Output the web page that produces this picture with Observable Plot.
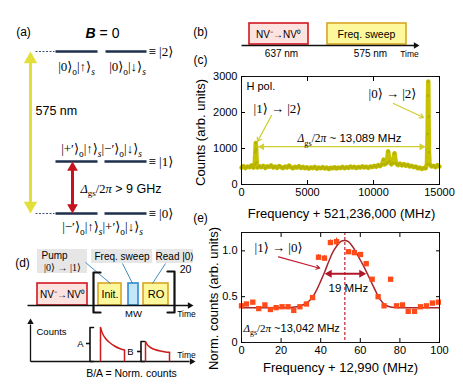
<!DOCTYPE html>
<html><head><meta charset="utf-8">
<script src="https://cdn.jsdelivr.net/npm/d3@7"></script>
<script src="https://cdn.jsdelivr.net/npm/@observablehq/plot@0.6"></script>
<style>
body{margin:0;background:#fff}
#fig{position:relative;width:463px;height:386px;overflow:hidden;background:#fff}
#fig svg{position:absolute;left:0;top:0}
</style></head><body><div id="fig"></div>
<script>
const SANS = "Liberation Sans, Arial, Helvetica, sans-serif";
const SERIF = "Liberation Serif, Times New Roman, DejaVu Serif, serif";

// ---------- (c) spectrum data ----------
const freqC = [0,150,300,450,600,750,900,1000,1050,1080,1110,1150,1200,1350,1500,1650,1800,1950,2100,2250,2400,2550,2700,2850,3000,3150,3300,3450,3600,3750,3900,4050,4200,4350,4500,4650,4800,4950,5100,5250,5400,5550,5700,5850,6000,6150,6300,6450,6600,6750,6900,7050,7200,7350,7500,7650,7800,7950,8100,8250,8400,8550,8700,8850,9000,9150,9300,9450,9600,9750,9900,10050,10200,10350,10500,10650,10760,10850,11000,11110,11200,11350,11450,11590,11700,11850,12000,12150,12300,12450,12600,12750,12900,13050,13200,13350,13500,13650,13800,13950,14050,14100,14130,14150,14170,14200,14250,14400,14550,14700,14850,15000];
const countsC = [470,510,455,500,480,530,470,560,900,1150,980,620,470,510,480,520,460,505,490,530,470,500,460,515,480,455,500,470,525,480,450,495,470,510,460,490,450,480,440,475,455,490,440,470,450,485,445,470,430,465,450,480,445,470,455,490,450,480,460,500,470,490,455,485,470,505,475,495,460,500,485,520,490,540,510,560,690,560,600,920,640,560,600,870,590,540,580,530,570,520,550,500,520,480,500,450,470,430,460,450,560,1400,2470,2860,1890,900,560,500,520,480,540,500];
const xTicksC = [0,5000,10000,15000];
const yTicksC = [0,1000,2000,3000];

// ---------- (e) resonance data ----------
const freqE = [0,2.5,5.7,8.7,11.8,14.6,17.5,20.5,23.5,26.4,29.5,32.8,35.9,38.9,41.9,44.9,48.0,54.0,57.0,60.1,63.0,66.0,69.0,72.0,75.3,78.3,81.3,84.2,87.4,90.4,93.4,96.4,99.4];
const normE = [0.40,0.42,0.44,0.37,0.41,0.36,0.38,0.39,0.39,0.35,0.39,0.42,0.49,0.93,0.92,1.09,1.10,0.99,0.98,0.96,0.86,0.69,0.50,0.40,0.69,0.40,0.41,0.34,0.34,0.39,0.40,0.43,0.44];
const errE  = [0.01,0.01,0.01,0.01,0.01,0.01,0.01,0.01,0.01,0.01,0.01,0.01,0.02,0.03,0.03,0.03,0.04,0.02,0.02,0.02,0.02,0.02,0.02,0.01,0.02,0.01,0.01,0.01,0.01,0.01,0.01,0.01,0.01];
const fitFreq = [0,10,20,25,28,30,32,34,36,38,40,42,44,46,48,50,52,54,56,58,60,62,64,66,68,70,72,74,76,80,90,100];
const fitNorm = [0.38,0.38,0.38,0.383,0.39,0.40,0.42,0.45,0.50,0.575,0.67,0.77,0.88,0.98,1.05,1.10,1.113,1.10,1.05,0.98,0.90,0.82,0.73,0.64,0.55,0.47,0.42,0.395,0.385,0.38,0.38,0.38];
const xTicksE = [0,20,40,60,80,100];
const yTicksE = [0,0.5,1.0];

// ---------- helpers ----------
function heads(tips, dir, r, fill) {
  const d = 2 * Math.sqrt(Math.PI * r * r / (3 * Math.sqrt(3)));
  const o = {up:[0,d,0], down:[0,-d,180], right:[-d,0,90], left:[d,0,270]}[dir];
  return Plot.dot(tips, {x: "x", y: "y", symbol: "triangle", r, fill, strokeWidth: 0, rotate: o[2], dx: o[0], dy: o[1]});
}
function T(d) {
  return Plot.text([d], {x: "x", y: "y", text: "t", fontSize: d.size || 10,
    textAnchor: d.anchor || "middle", fontFamily: d.serif ? SERIF : SANS,
    rotate: d.rot || 0, fill: d.fill || "black"});
}
const NS = "http://www.w3.org/2000/svg";
function richify(svg) {
  svg.querySelectorAll("text").forEach(t => {
    const s = t.textContent;
    if (!/\{(i|s|sub|subi|bi):/.test(s)) return;
    const fs = parseFloat(getComputedStyle(t).fontSize) || 10;
    while (t.firstChild) t.removeChild(t.firstChild);
    const re = /\{(subi|sub|bi|i|s):([^}]*)\}/g;
    let last = 0, shift = 0, m;
    const add = (txt, type) => {
      if (!txt) return;
      const ts = document.createElementNS(NS, "tspan");
      ts.textContent = txt;
      let target = 0;
      if (type === "sub" || type === "subi") {
        target = Math.round(fs * 0.3 * 10) / 10;
        ts.style.fontSize = (fs * 0.72) + "px";
        ts.style.fontFamily = SERIF;
        if (type === "subi") ts.style.fontStyle = "italic";
      }
      if (type === "i") { ts.style.fontStyle = "italic"; ts.style.fontFamily = SERIF; }
      if (type === "s") ts.style.fontFamily = SERIF;
      if (type === "bi") { ts.style.fontStyle = "italic"; ts.style.fontWeight = "bold"; }
      if (target !== shift) { ts.setAttribute("dy", target - shift); shift = target; }
      t.appendChild(ts);
    };
    while ((m = re.exec(s))) { add(s.slice(last, m.index), null); add(m[2], m[1]); last = re.lastIndex; }
    add(s.slice(last), null);
  });
}
const fig = document.getElementById("fig");
function mount(svg) { svg.style.position = "absolute"; svg.style.left = "0"; svg.style.top = "0"; fig.appendChild(svg); richify(svg); }

// ---------- diagram layer (panels a, b, d and shared labels) ----------
const NAVY = "#1d2f4d", YEL = "#e2df3a", RED = "#c4121f";
const segSolid = [
  {x1:55,y1:51,x2:97,y2:51,c:NAVY,w:2.6},{x1:105,y1:51,x2:146,y2:51,c:NAVY,w:2.6},
  {x1:55,y1:161,x2:97,y2:161,c:NAVY,w:2.6},{x1:104,y1:161,x2:146,y2:161,c:NAVY,w:2.6},
  {x1:55,y1:213,x2:97,y2:213,c:NAVY,w:2.6},{x1:104,y1:213,x2:146,y2:213,c:NAVY,w:2.6},
  {x1:30,y1:60,x2:30,y2:204,c:YEL,w:3},
  {x1:72,y1:168,x2:72,y2:206,c:RED,w:3},
  {x1:241,y1:45,x2:414,y2:45,c:"#111",w:1.3},
  {x1:27,y1:305,x2:188,y2:305,c:"#111",w:1.3},
  {x1:85,y1:262,x2:110,y2:283,c:"#2f80b8",w:0.9},
  {x1:122,y1:263,x2:132,y2:283,c:"#2f80b8",w:0.9},
  {x1:165,y1:263,x2:152,y2:283,c:"#2f80b8",w:0.9},
  {x1:30,y1:361,x2:30,y2:324,c:"#111",w:1.3},
  {x1:30,y1:361,x2:189,y2:361,c:"#111",w:1.3},
  {x1:89.5,y1:343,x2:85.5,y2:343,c:"#111",w:1.6},
  {x1:140.5,y1:351,x2:136.5,y2:351,c:"#111",w:1.6},
  {x1:100,y1:361,x2:100,y2:327,c:"#cc1b1b",w:1.5},
  {x1:124,y1:349.5,x2:124,y2:361,c:"#cc1b1b",w:1.5},
  {x1:145,y1:361,x2:145,y2:341,c:"#cc1b1b",w:1.5},
  {x1:169,y1:351.8,x2:169,y2:361,c:"#cc1b1b",w:1.5}
];
const segDashed = [{x1:35,y1:51,x2:54,y2:51},{x1:35,y1:213,x2:54,y2:213}];
const boxes = [
  {x1:249,x2:308,y1:23,y2:44,f:"#fde3df",s:"#d2161e"},
  {x1:327,x2:406,y1:23,y2:44,f:"#fdf89c",s:"#d8a624"},
  {x1:37,x2:87,y1:283,y2:305,f:"#fde3df",s:"#d2161e"},
  {x1:98,x2:121,y1:283,y2:305,f:"#fdf89c",s:"#d8a624"},
  {x1:128,x2:138,y1:283,y2:305,f:"#c4e6f8",s:"#2b8ccc"},
  {x1:143,x2:168,y1:283,y2:305,f:"#fdf89c",s:"#d8a624"}
];
const grayBoxes = [
  {x1:37,x2:87,y1:249,y2:273},{x1:91,x2:152,y1:249,y2:263},{x1:156,x2:193,y1:249,y2:263}
];
const brackets = [
  {id:"L",x:100,y:272},{id:"L",x:93,y:272},{id:"L",x:93,y:312},{id:"L",x:100,y:312},
  {id:"R",x:167,y:271},{id:"R",x:174,y:271},{id:"R",x:174,y:312},{id:"R",x:167,y:312}
];
const braces = [
  {id:"A",x:93,y:327},{id:"A",x:89.5,y:327},{id:"A",x:89.5,y:361},{id:"A",x:93,y:361},
  {id:"B",x:144,y:341},{id:"B",x:140.5,y:341},{id:"B",x:140.5,y:361},{id:"B",x:144,y:361}
];
const decay = [
  {id:"A",x:100,y:327},{id:"A",x:102,y:333},{id:"A",x:105,y:338},{id:"A",x:109,y:342},{id:"A",x:114,y:345.5},{id:"A",x:119,y:348},{id:"A",x:124,y:349.5},
  {id:"B",x:145,y:341},{id:"B",x:147,y:344.5},{id:"B",x:150,y:347},{id:"B",x:155,y:349.3},{id:"B",x:160,y:350.6},{id:"B",x:165,y:351.4},{id:"B",x:169,y:351.8}
];
const labels = [
  {x:23,y:32,t:"(a)",size:12},
  {x:102,y:33,t:"{bi:B} = 0",size:14},
  {x:76,y:66,t:"|0⟩{sub:o}|↑⟩{subi:s}",size:13,serif:1},
  {x:127,y:66,t:"|0⟩{sub:o}|↓⟩{subi:s}",size:13,serif:1},
  {x:101,y:148,t:"|+′⟩{sub:o}|↑⟩{subi:s}|−′⟩{sub:o}|↓⟩{subi:s}",size:13,serif:1},
  {x:102,y:226,t:"|−′⟩{sub:o}|↑⟩{subi:s}|+′⟩{sub:o}|↓⟩{subi:s}",size:13,serif:1},
  {x:148,y:51,t:"≡ |2⟩",size:13,serif:1,anchor:"start"},
  {x:148,y:161,t:"≡ |1⟩",size:13,serif:1,anchor:"start"},
  {x:148,y:213,t:"≡ |0⟩",size:13,serif:1,anchor:"start"},
  {x:35,y:110,t:"575 nm",size:12.5,anchor:"start"},
  {x:80,y:188,t:"{i:Δ}{sub:gs}{s:/2}{i:π} > 9 GHz",size:12.5,anchor:"start"},
  {x:200,y:32,t:"(b)",size:12},
  {x:278,y:34,t:"NV⁻→NV⁰",size:10},
  {x:366,y:34,t:"Freq. sweep",size:10.5},
  {x:281,y:53,t:"637 nm",size:10},
  {x:370,y:53,t:"575 nm",size:10},
  {x:409,y:54,t:"Time",size:8.5},
  {x:200,y:60,t:"(c)",size:12},
  {x:200,y:132,t:"Counts (arb. units)",size:13,rot:-90},
  {x:341,y:213,t:"Frequency + 521,236,000 (MHz)",size:13},
  {x:200,y:218,t:"(e)",size:12},
  {x:213,y:298,t:"Norm. counts (arb. units)",size:13,rot:-90},
  {x:340,y:367,t:"Frequency + 12,990 (MHz)",size:13},
  {x:22,y:263,t:"(d)",size:12},
  {x:41,y:255,t:"Pump",size:10,anchor:"start"},
  {x:62,y:267,t:"|0⟩ → |1⟩",size:10,serif:1},
  {x:121.5,y:256,t:"Freq. sweep",size:10},
  {x:174.5,y:256,t:"Read |0⟩",size:10},
  {x:62,y:294,t:"NV⁻→NV⁰",size:10},
  {x:109.5,y:294,t:"Init.",size:10.5},
  {x:155.5,y:294,t:"RO",size:11},
  {x:133,y:313,t:"MW",size:9.5},
  {x:186,y:314,t:"Time",size:8.5},
  {x:185,y:269,t:"20",size:10.5},
  {x:36,y:331,t:"Counts",size:9.5,anchor:"start"},
  {x:186,y:355,t:"Time",size:8.5},
  {x:80,y:343,t:"A",size:9.5},
  {x:130,y:351,t:"B",size:9.5},
  {x:131,y:373,t:"B/A = Norm. counts",size:10.5}
];

const base = Plot.plot({
  width: 463, height: 386, margin: 0,
  x: {domain: [0, 463], range: [0, 463], axis: null},
  y: {domain: [0, 386], range: [0, 386], axis: null},
  style: {background: "transparent", fontFamily: SANS, overflow: "visible"},
  marks: [
    Plot.rect(grayBoxes, {x1: "x1", x2: "x2", y1: "y1", y2: "y2", fill: "#e6e6e6"}),
    Plot.rect(boxes, {x1: "x1", x2: "x2", y1: "y1", y2: "y2", fill: "f", stroke: "s", strokeWidth: 1.6}),
    Plot.link(segDashed, {x1: "x1", y1: "y1", x2: "x2", y2: "y2", stroke: "#3b5275", strokeWidth: 1, strokeDasharray: "2,1.5"}),
    Plot.link(segSolid, {x1: "x1", y1: "y1", x2: "x2", y2: "y2", stroke: "c", strokeWidth: "w"}),
    Plot.line(brackets, {x: "x", y: "y", z: "id", stroke: "#111", strokeWidth: 2.2}),
    Plot.line(braces, {x: "x", y: "y", z: "id", stroke: "#111", strokeWidth: 1.6}),
    Plot.line(decay, {x: "x", y: "y", z: "id", stroke: "#cc1b1b", strokeWidth: 1.5, curve: "catmull-rom"}),
    heads([{x:30,y:51}], "up", 5, YEL),
    heads([{x:30,y:213}], "down", 5, YEL),
    heads([{x:72,y:161}], "up", 4, RED),
    heads([{x:72,y:213}], "down", 4, RED),
    heads([{x:419,y:45},{x:193,y:305},{x:195,y:361}], "right", 2.4, "#111"),
    heads([{x:30,y:318}], "up", 2.4, "#111"),
    ...labels.map(T)
  ]
});
mount(base);

// ---------- (c) spectrum ----------
const OLIVE = "#c6c200", ARROWY = "#d0cf2e";
const specC = freqC.map((f, i) => ({f, c: countsC[i]}));
const plotC = Plot.plot({
  width: 463, height: 386,
  marginLeft: 241, marginRight: 24, marginTop: 76, marginBottom: 202,
  x: {domain: [0, 15000]}, y: {domain: [0, 3000]},
  style: {background: "transparent", fontFamily: SANS, overflow: "visible"},
  marks: [
    Plot.line(specC, {x: "f", y: "c", stroke: OLIVE, strokeWidth: 4.5, strokeLinejoin: "round"}),
    Plot.dot(specC, {x: "f", y: "c", r: 1.5, fill: "#b5b100", strokeWidth: 0}),
    Plot.link([{x1: 1250, x2: 13950, y: 1050}], {x1: "x1", x2: "x2", y1: "y", y2: "y", stroke: ARROWY, strokeWidth: 1.3}),
    heads([{x: 1250, y: 1050}], "left", 2.6, ARROWY),
    heads([{x: 13950, y: 1050}], "right", 2.6, ARROWY),
    Plot.arrow([{x1: 2273, y1: 1917, x2: 1212, y2: 1194}, {x1: 11515, y1: 2250, x2: 13788, y2: 1861}],
      {x1: "x1", y1: "y1", x2: "x2", y2: "y2", stroke: ARROWY, strokeWidth: 1.3, headLength: 5}),
    T({x: 379, y: 2722, t: "H pol.", size: 11, anchor: "start"}),
    T({x: 2727, y: 2111, t: "|1⟩ → |2⟩", size: 13, serif: 1}),
    T({x: 11439, y: 2528, t: "|0⟩ → |2⟩", size: 13, serif: 1}),
    T({x: 8182, y: 1278, t: "{i:Δ}{sub:gs}{s:/2}{i:π} ~ 13,089 MHz", size: 11.5}),
    Plot.frame({stroke: "#111"}),
    Plot.axisX({anchor: "bottom", ticks: xTicksC, tickFormat: "d", tickSize: -4, tickPadding: 8, label: null, fontSize: 11}),
    Plot.axisX({anchor: "top", ticks: xTicksC, tickFormat: () => "", tickSize: -4, label: null}),
    Plot.axisY({anchor: "left", ticks: yTicksC, tickFormat: "d", tickSize: -4, tickPadding: 8, label: null, fontSize: 11}),
    Plot.axisY({anchor: "right", ticks: yTicksC, tickFormat: () => "", tickSize: -4, label: null})
  ]
});
mount(plotC);

// ---------- (e) resonance ----------
const PT = "#ff4a1a", FIT = "#a8262e", DR = "#b0182a";
const ptsE = freqE.map((f, i) => ({f, v: normE[i], lo: normE[i] - errE[i], hi: normE[i] + errE[i]}));
const fitE = fitFreq.map((f, i) => ({f, v: fitNorm[i]}));
const plotE = Plot.plot({
  width: 463, height: 386,
  marginLeft: 241, marginRight: 24, marginTop: 232, marginBottom: 44,
  x: {domain: [0, 100]}, y: {domain: [0, 1.2]},
  style: {background: "transparent", fontFamily: SANS, overflow: "visible"},
  marks: [
    Plot.ruleX([52.2], {x: d => d, stroke: "#c0202e", strokeWidth: 1.2, strokeDasharray: "3,2"}),
    Plot.line(fitE, {x: "f", y: "v", stroke: FIT, strokeWidth: 1.5, curve: "catmull-rom"}),
    Plot.ruleX(ptsE, {x: "f", y1: "lo", y2: "hi", stroke: PT, strokeWidth: 1}),
    Plot.dot(ptsE, {x: "f", y: "v", symbol: "square", r: 3, fill: PT, strokeWidth: 0}),
    Plot.link([{x1: 43.5, x2: 61.5, y: 0.75}], {x1: "x1", x2: "x2", y1: "y", y2: "y", stroke: DR, strokeWidth: 1.8}),
    heads([{x: 42, y: 0.75}], "left", 3, DR),
    heads([{x: 63, y: 0.75}], "right", 3, DR),
    Plot.arrow([{x1: 18.7, y1: 0.934, x2: 39.5, y2: 0.81}], {x1: "x1", y1: "y1", x2: "x2", y2: "y2", stroke: "#c01f2e", strokeWidth: 1.2, headLength: 5}),
    T({x: 18.7, y: 1.033, t: "|1⟩ → |0⟩", size: 13, serif: 1}),
    T({x: 54, y: 0.593, t: "19 MHz", size: 11.5}),
    T({x: 1, y: 0.154, t: "{i:Δ}{sub:gs}{s:/2}{i:π} ~13,042 MHz", size: 11, anchor: "start"}),
    Plot.frame({stroke: "#111"}),
    Plot.axisX({anchor: "bottom", ticks: xTicksE, tickFormat: "d", tickSize: -4, tickPadding: 8, label: null, fontSize: 11}),
    Plot.axisX({anchor: "top", ticks: xTicksE, tickFormat: () => "", tickSize: -4, label: null}),
    Plot.axisY({anchor: "left", ticks: yTicksE, tickFormat: d => d === 0 ? "0" : d.toFixed(1), tickSize: -4, tickPadding: 8, label: null, fontSize: 11}),
    Plot.axisY({anchor: "right", ticks: yTicksE, tickFormat: () => "", tickSize: -4, label: null})
  ]
});
mount(plotE);
</script></body></html>
